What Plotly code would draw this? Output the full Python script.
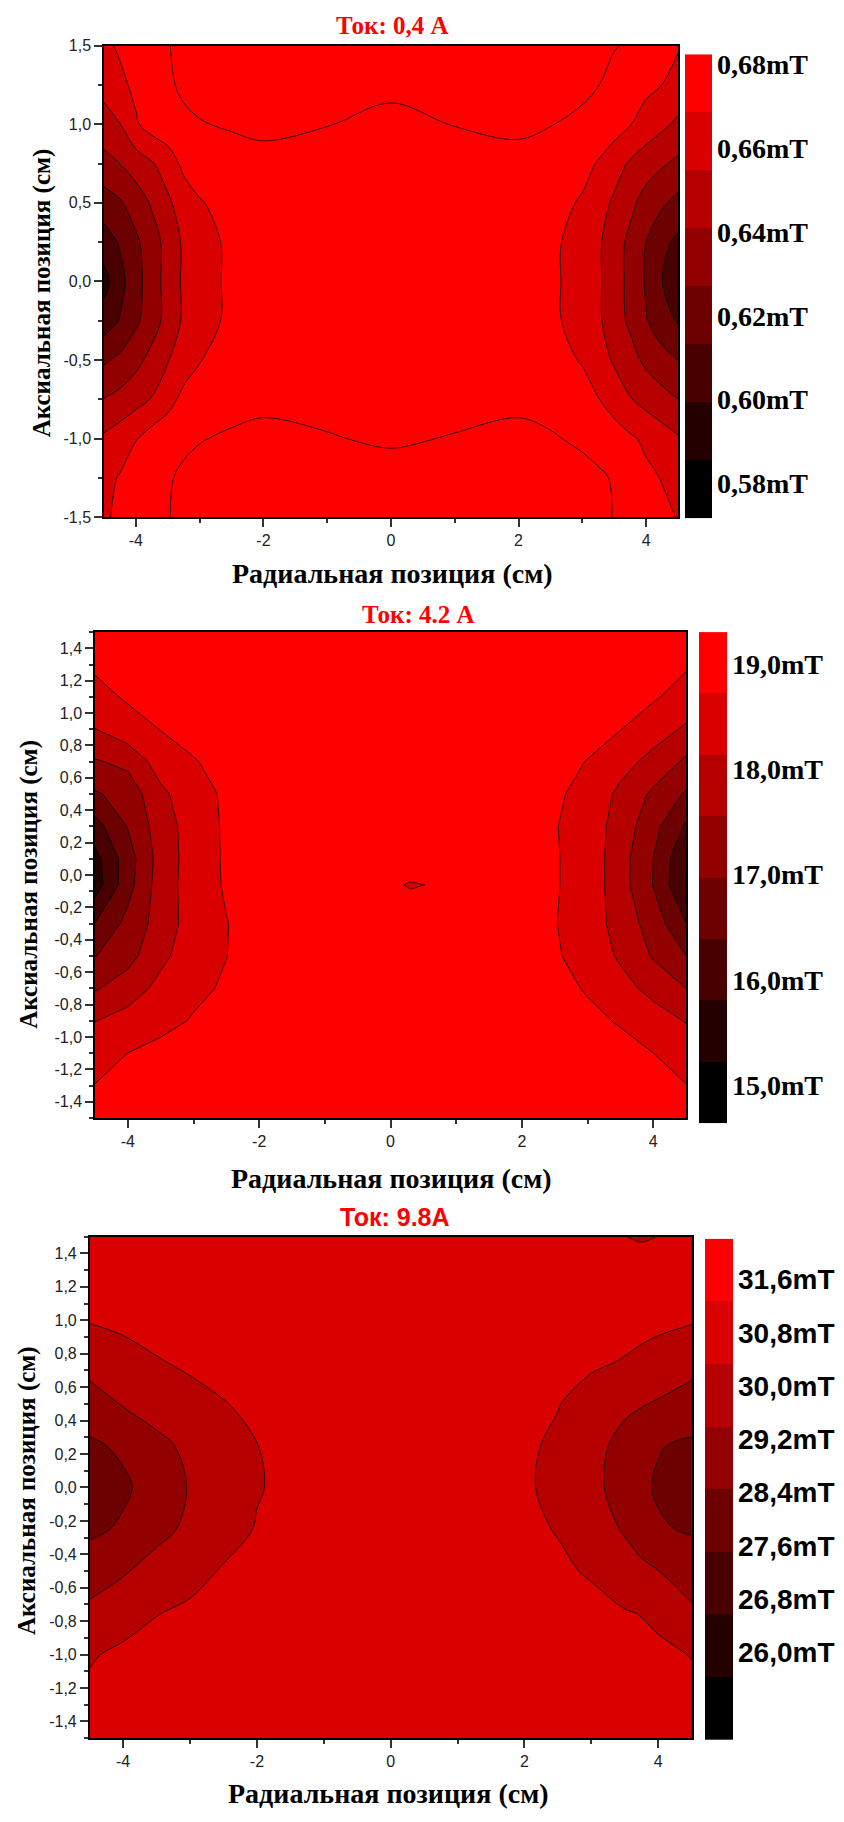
import plotly.graph_objects as go

W, H = 844, 1822

band_colors = ['#000000', '#240000', '#490000', '#6d0000',
               '#920000', '#b60000', '#db0000', '#ff0000']

# ---------------- Panel 1 : 0,4 A ----------------
p1_x = [-4.5, -4.25, -4, -3.75, -3.5, -3.25, -3, -2.5, -2, -1, 0,
        1, 2, 2.5, 3, 3.25, 3.5, 3.75, 4, 4.25, 4.5]
p1_y = [-1.5, -1.25, -1, -0.75, -0.5, -0.25, 0, 0.25, 0.5, 0.75, 1, 1.25, 1.5]
p1_z = [
    [0.6665, 0.6715, 0.6755, 0.679, 0.682, 0.6845, 0.6858, 0.6865, 0.687, 0.687, 0.6868,
     0.687, 0.687, 0.6866, 0.686, 0.685, 0.682, 0.679, 0.675, 0.6715, 0.668],
    [0.665, 0.6695, 0.6735, 0.6775, 0.6815, 0.684, 0.685, 0.6855, 0.6858, 0.6855, 0.6852,
     0.6856, 0.6858, 0.6855, 0.685, 0.684, 0.6815, 0.6765, 0.6715, 0.668, 0.6645],
    [0.657, 0.662, 0.668, 0.6745, 0.678, 0.6805, 0.682, 0.6835, 0.684, 0.6828, 0.6815,
     0.6828, 0.684, 0.6832, 0.681, 0.6785, 0.675, 0.6705, 0.666, 0.661, 0.656],
    [0.6415, 0.645, 0.650, 0.6555, 0.6635, 0.6725, 0.676, 0.6795, 0.681, 0.6805, 0.679,
     0.68, 0.681, 0.6795, 0.674, 0.669, 0.6625, 0.6555, 0.65, 0.6455, 0.641],
    [0.625, 0.630, 0.637, 0.645, 0.654, 0.6615, 0.668, 0.6745, 0.6762, 0.677, 0.6765,
     0.6768, 0.676, 0.674, 0.6675, 0.661, 0.653, 0.6455, 0.638, 0.632, 0.627],
    [0.606, 0.614, 0.6245, 0.635, 0.6455, 0.657, 0.663, 0.6715, 0.6745, 0.6755, 0.6755,
     0.6755, 0.6745, 0.6715, 0.663, 0.657, 0.647, 0.6385, 0.628, 0.619, 0.612],
    [0.594, 0.609, 0.622, 0.6345, 0.646, 0.657, 0.6625, 0.6715, 0.674, 0.675, 0.675,
     0.675, 0.674, 0.6715, 0.6625, 0.657, 0.6465, 0.6375, 0.6255, 0.6135, 0.604],
    [0.607, 0.6145, 0.6245, 0.635, 0.6455, 0.657, 0.663, 0.6715, 0.6745, 0.6755, 0.6755,
     0.6755, 0.6745, 0.6715, 0.663, 0.657, 0.6465, 0.638, 0.627, 0.617, 0.610],
    [0.620, 0.6255, 0.6335, 0.6425, 0.6525, 0.661, 0.6675, 0.674, 0.676, 0.6765, 0.676,
     0.6765, 0.676, 0.674, 0.667, 0.6605, 0.6525, 0.644, 0.636, 0.629, 0.623],
    [0.637, 0.641, 0.6475, 0.6535, 0.661, 0.672, 0.6755, 0.679, 0.6805, 0.6795, 0.6775,
     0.6795, 0.6805, 0.679, 0.673, 0.6675, 0.6605, 0.653, 0.6465, 0.6425, 0.638],
    [0.648, 0.6545, 0.667, 0.6745, 0.678, 0.6805, 0.682, 0.6832, 0.6838, 0.6826, 0.6805,
     0.6826, 0.6836, 0.6826, 0.681, 0.678, 0.6745, 0.669, 0.6635, 0.6575, 0.652],
    [0.660, 0.6655, 0.6715, 0.677, 0.681, 0.684, 0.6848, 0.6852, 0.6855, 0.685, 0.684,
     0.685, 0.6855, 0.685, 0.6838, 0.6826, 0.679, 0.675, 0.6715, 0.6685, 0.6645],
    [0.6655, 0.6705, 0.675, 0.679, 0.682, 0.6845, 0.6855, 0.686, 0.6865, 0.6865, 0.6862,
     0.6865, 0.687, 0.6862, 0.6852, 0.684, 0.683, 0.6812, 0.6765, 0.6725, 0.6695],
]
p1_edges = [0.5717, 0.5856, 0.5994, 0.6132, 0.6271, 0.6409, 0.6547, 0.6686, 0.6824]
p1_cb_vals = [0.58, 0.60, 0.62, 0.64, 0.66, 0.68]
p1_cb_text = ['0,58mT', '0,60mT', '0,62mT', '0,64mT', '0,66mT', '0,68mT']
p1_yticks = [-1.5, -1.0, -0.5, 0, 0.5, 1.0, 1.5]
p1_ytext = ['-1,5', '-1,0', '-0,5', '0,0', '0,5', '1,0', '1,5']
p1_yminor = [-1.25, -0.75, -0.25, 0.25, 0.75, 1.25]

# ---------------- Panel 2 : 4.2 A ----------------
p2_x = [-4.5, -4, -3.5, -3, -2.5, -2, -1, 0, 0.3, 1, 2, 2.5, 3, 3.5, 4, 4.5]
p2_y = [-1.5, -1.3, -1.1, -0.9, -0.7, -0.5, -0.3, -0.06, 0.1, 0.3, 0.5, 0.7, 0.9, 1.1, 1.3, 1.5]
p2_z = [
    [18.85, 18.95, 19.0, 19.03, 19.04, 19.05, 19.05, 19.05, 19.05, 19.05, 19.05, 19.04, 19.02, 19.0, 18.95, 18.87],
    [18.73, 18.88, 18.97, 19.0, 19.03, 19.04, 19.05, 19.05, 19.05, 19.05, 19.04, 19.02, 19.0, 18.95, 18.86, 18.73],
    [18.5, 18.72, 18.88, 18.96, 19.0, 19.02, 19.04, 19.05, 19.05, 19.04, 19.02, 19.0, 18.94, 18.86, 18.72, 18.5],
    [18.12, 18.35, 18.55, 18.76, 18.9, 18.98, 19.02, 19.03, 19.03, 19.03, 19.0, 18.93, 18.82, 18.68, 18.42, 18.1],
    [17.5, 17.85, 18.3, 18.6, 18.78, 18.95, 19.0, 19.02, 19.02, 19.02, 18.97, 18.85, 18.68, 18.35, 17.95, 17.55],
    [16.95, 17.35, 18.0, 18.45, 18.71, 18.95, 19.0, 19.02, 19.02, 19.0, 18.95, 18.78, 18.5, 18.05, 17.5, 16.97],
    [16.4, 17.15, 17.8, 18.41, 18.70, 18.95, 19.0, 19.0, 19.0, 19.0, 18.95, 18.74, 18.45, 17.9, 17.3, 16.4],
    [15.5, 16.75, 17.85, 18.4, 18.78, 18.95, 19.0, 18.8, 18.68, 18.8, 18.95, 18.76, 18.5, 17.8, 16.95, 15.78],
    [15.6, 16.7, 17.8, 18.4, 18.79, 18.95, 19.02, 19.03, 19.03, 19.02, 18.95, 18.76, 18.5, 17.8, 16.97, 15.85],
    [16.15, 17.0, 17.85, 18.4, 18.8, 18.95, 19.02, 19.03, 19.03, 19.02, 18.95, 18.75, 18.45, 17.9, 17.15, 16.3],
    [16.9, 17.2, 18.0, 18.5, 18.8, 18.95, 19.02, 19.03, 19.03, 19.02, 18.95, 18.8, 18.55, 18.0, 17.45, 16.9],
    [17.5, 17.7, 18.42, 18.68, 18.9, 18.98, 19.02, 19.03, 19.03, 19.02, 18.98, 18.9, 18.7, 18.35, 17.95, 17.45],
    [18.12, 18.5, 18.73, 18.92, 19.0, 19.03, 19.05, 19.05, 19.05, 19.05, 19.02, 18.98, 18.9, 18.73, 18.4, 18.05],
    [18.55, 18.78, 18.95, 19.02, 19.04, 19.05, 19.05, 19.05, 19.05, 19.05, 19.04, 19.02, 18.97, 18.9, 18.78, 18.5],
    [18.8, 18.95, 19.02, 19.05, 19.05, 19.05, 19.05, 19.05, 19.05, 19.05, 19.05, 19.04, 19.02, 18.97, 18.9, 18.78],
    [18.9, 19.0, 19.05, 19.05, 19.05, 19.05, 19.05, 19.05, 19.05, 19.05, 19.05, 19.04, 19.03, 19.0, 18.95, 18.87],
]
p2_edges = [14.64, 15.2225, 15.805, 16.3875, 16.97, 17.5525, 18.135, 18.7175, 19.30]
p2_cb_vals = [15.0, 16.0, 17.0, 18.0, 19.0]
p2_cb_text = ['15,0mT', '16,0mT', '17,0mT', '18,0mT', '19,0mT']

# ---------------- Panel 3 : 9.8 A ----------------
p3_x = [-4.5, -4, -3.5, -3, -2.5, -2, -1.5, -1, 0,
        1, 1.5, 2, 2.5, 3, 3.5, 3.75, 4, 4.5]
p3_y = [-1.5, -1.25, -1, -0.75, -0.5, -0.25, 0, 0.25, 0.5, 0.75, 1, 1.25, 1.5]
p3_z = [
    [30.7, 30.8, 30.86, 30.9, 30.92, 30.93, 30.95, 30.96, 30.97,
     30.96, 30.95, 30.93, 30.9, 30.87, 30.83, 30.8, 30.76, 30.7],
    [30.5, 30.66, 30.75, 30.8, 30.84, 30.86, 30.88, 30.9, 30.92,
     30.9, 30.89, 30.87, 30.85, 30.82, 30.77, 30.73, 30.68, 30.55],
    [30.25, 30.5, 30.64, 30.72, 30.77, 30.8, 30.82, 30.84, 30.86,
     30.84, 30.82, 30.79, 30.75, 30.7, 30.62, 30.57, 30.5, 30.3],
    [29.55, 29.95, 30.3, 30.48, 30.6, 30.68, 30.73, 30.77, 30.8,
     30.76, 30.72, 30.67, 30.6, 30.5, 30.38, 30.3, 30.15, 29.5],
    [29.05, 29.3, 29.75, 30.05, 30.4, 30.52, 30.62, 30.69, 30.76,
     30.68, 30.62, 30.54, 30.43, 30.27, 29.8, 29.6, 29.4, 29.05],
    [28.25, 28.58, 29.12, 29.58, 30.0, 30.38, 30.53, 30.64, 30.73,
     30.63, 30.55, 30.45, 30.3, 29.85, 29.3, 28.92, 28.55, 28.35],
    [28.0, 28.3, 28.85, 29.45, 29.95, 30.28, 30.5, 30.62, 30.72,
     30.62, 30.55, 30.42, 30.15, 29.7, 28.9, 28.6, 28.35, 28.0],
    [28.3, 28.6, 29.15, 29.6, 30.0, 30.32, 30.52, 30.64, 30.73,
     30.64, 30.56, 30.45, 30.2, 29.75, 29.05, 28.75, 28.5, 28.3],
    [29.0, 29.45, 29.8, 30.08, 30.3, 30.48, 30.6, 30.7, 30.76,
     30.7, 30.64, 30.54, 30.36, 30.0, 29.6, 29.45, 29.3, 29.0],
    [29.7, 30.0, 30.28, 30.45, 30.57, 30.65, 30.72, 30.76, 30.8,
     30.76, 30.72, 30.67, 30.58, 30.45, 30.28, 30.15, 30.0, 29.7],
    [30.38, 30.52, 30.62, 30.7, 30.75, 30.79, 30.82, 30.84, 30.86,
     30.84, 30.82, 30.79, 30.75, 30.7, 30.62, 30.57, 30.52, 30.4],
    [30.6, 30.7, 30.77, 30.82, 30.85, 30.87, 30.89, 30.9, 30.92,
     30.9, 30.89, 30.87, 30.85, 30.82, 30.77, 30.74, 30.7, 30.62],
    [30.75, 30.82, 30.87, 30.9, 30.92, 30.94, 30.95, 30.96, 30.97,
     30.96, 30.95, 30.93, 30.9, 30.86, 30.34, 30.27, 30.34, 30.75],
]
p3_edges = [24.69, 25.63, 26.57, 27.51, 28.45, 29.39, 30.33, 31.27, 32.21]
p3_cb_vals = [26.0, 26.8, 27.6, 28.4, 29.2, 30.0, 30.8, 31.6]
p3_cb_text = ['26,0mT', '26,8mT', '27,6mT', '28,4mT', '29,2mT', '30,0mT', '30,8mT', '31,6mT']

# shared axis ticks
x_ticks = [-4, -2, 0, 2, 4]
x_text = ['-4', '-2', '0', '2', '4']
x_minor = [-3, -1, 1, 3]
y_ticks_fine = [-1.4, -1.2, -1.0, -0.8, -0.6, -0.4, -0.2, 0, 0.2, 0.4, 0.6, 0.8, 1.0, 1.2, 1.4]
y_text_fine = ['-1,4', '-1,2', '-1,0', '-0,8', '-0,6', '-0,4', '-0,2', '0,0',
               '0,2', '0,4', '0,6', '0,8', '1,0', '1,2', '1,4']
y_minor_fine = [-1.5, -1.3, -1.1, -0.9, -0.7, -0.5, -0.3, -0.1, 0.1, 0.3, 0.5, 0.7, 0.9, 1.1, 1.3, 1.5]

titles = ['Ток: 0,4 A', 'Ток: 4.2 A', 'Ток: 9.8A']
x_title = 'Радиальная позиция (см)'
y_title = 'Аксиальная позиция (см)'

SERIF = 'Liberation Serif'
SANS = 'Liberation Sans'


def px_x(v):
    return v / W


def px_y(v):
    return 1 - v / H


def contour_trace(x, y, z, edges, smooth, xa, ya):
    n = len(edges) - 1
    size = (edges[-1] - edges[0]) / n
    start = edges[0] + size
    cs = [[k / n, band_colors[min(k, n - 1)]] for k in range(n + 1)]
    return go.Contour(
        x=x, y=y, z=z, xaxis=xa, yaxis=ya,
        autocontour=False,
        contours=dict(start=start, end=start + (n - 1) * size + size * 1e-3, size=size,
                      coloring='fill', showlines=True),
        colorscale=cs, showscale=False,
        line=dict(color='black', width=0.8, smoothing=smooth),
        hoverinfo='skip')


def cbar_trace(edges, xa, ya):
    n = len(edges) - 1
    return go.Heatmap(
        x=[0, 1], y=edges, z=[[k] for k in range(n)], zmin=0, zmax=n - 1,
        colorscale=[[k / (n - 1), band_colors[k]] for k in range(n)],
        showscale=False, xaxis=xa, yaxis=ya, hoverinfo='skip')


fig = go.Figure()
fig.add_trace(contour_trace(p1_x, p1_y, p1_z, p1_edges, 1.0, 'x', 'y'))
fig.add_trace(cbar_trace(p1_edges, 'x2', 'y2'))
fig.add_trace(contour_trace(p2_x, p2_y, p2_z, p2_edges, 0, 'x3', 'y3'))
fig.add_trace(cbar_trace(p2_edges, 'x4', 'y4'))
fig.add_trace(contour_trace(p3_x, p3_y, p3_z, p3_edges, 1.0, 'x5', 'y5'))
fig.add_trace(cbar_trace(p3_edges, 'x6', 'y6'))

tickfont = dict(family=SANS, size=16, color='#222222')


def main_x(dom, anchor):
    return dict(domain=dom, anchor=anchor, range=[-4.5, 4.5], tickvals=x_ticks, ticktext=x_text,
                ticks='outside', ticklen=8, tickwidth=1.5, tickcolor='#333333',
                showline=True, linecolor='black', linewidth=1.5, mirror=True,
                showgrid=False, zeroline=False, tickfont=tickfont,
                minor=dict(tickvals=x_minor, ticks='outside', ticklen=4, tickwidth=1.5,
                           tickcolor='#333333', showgrid=False))


def main_y(dom, anchor, tv, tt, mv):
    return dict(domain=dom, anchor=anchor, range=[-1.5, 1.5], tickvals=tv, ticktext=tt,
                ticks='outside', ticklen=8, tickwidth=1.5, tickcolor='#333333',
                showline=True, linecolor='black', linewidth=1.5, mirror=True,
                showgrid=False, zeroline=False, tickfont=tickfont,
                minor=dict(tickvals=mv, ticks='outside', ticklen=4, tickwidth=1.5,
                           tickcolor='#333333', showgrid=False))


def cb_x(dom, anchor):
    return dict(domain=dom, anchor=anchor, range=[0, 1], visible=False)


def cb_y(dom, anchor, edges, tv, tt, fam):
    return dict(domain=dom, anchor=anchor, range=[edges[0], edges[-1]], side='right',
                tickvals=tv, ticktext=tt, ticks='', showgrid=False, zeroline=False,
                showline=False, ticklabelstandoff=4,
                tickfont=dict(family=fam, size=28, color='black', weight='bold'))


# pixel boxes (left, right, top, bottom)
P1 = (104, 678, 38, 514)
C1 = (685, 712, 46.7, 515)
P2 = (95, 686, 630, 1120.4)
C2 = (699, 727, 630, 1126)
P3 = (89.7, 691.7, 1240.3, 1746.5)
C3 = (705, 733, 1242.3, 1748.3)


def dx(b):
    return [px_x(b[0]), px_x(b[1])]


def dy(b):
    return [px_y(b[3]), px_y(b[2])]


fig.update_layout(
    width=W, height=H, margin=dict(l=0, r=0, t=0, b=0),
    paper_bgcolor='white', plot_bgcolor='white', showlegend=False,
    xaxis=main_x(dx(P1), 'y'),
    yaxis=main_y(dy(P1), 'x', p1_yticks, p1_ytext, p1_yminor),
    xaxis2=cb_x(dx(C1), 'y2'),
    yaxis2=cb_y(dy(C1), 'x2', p1_edges, p1_cb_vals, p1_cb_text, SERIF),
    xaxis3=main_x(dx(P2), 'y3'),
    yaxis3=main_y(dy(P2), 'x3', y_ticks_fine, y_text_fine, y_minor_fine),
    xaxis4=cb_x(dx(C2), 'y4'),
    yaxis4=cb_y(dy(C2), 'x4', p2_edges, p2_cb_vals, p2_cb_text, SERIF),
    xaxis5=main_x(dx(P3), 'y5'),
    yaxis5=main_y(dy(P3), 'x5', y_ticks_fine, y_text_fine, y_minor_fine),
    xaxis6=cb_x(dx(C3), 'y6'),
    yaxis6=cb_y(dy(C3), 'x6', p3_edges, p3_cb_vals, p3_cb_text, SANS),
)

ann = []
# panel titles
for t, cx, cy, fam in [(titles[0], 392, 18, SERIF), (titles[1], 418, 612, SERIF), (titles[2], 395, 1220, SANS)]:
    ann.append(dict(text=t, x=px_x(cx), y=px_y(cy), xref='paper', yref='paper',
                    xanchor='center', yanchor='middle', showarrow=False,
                    font=dict(family=fam, size=25, color='#ff0000', weight='bold')))
# x axis titles
for cx, cy in [(392, 571), (391, 1182), (388, 1802)]:
    ann.append(dict(text=x_title, x=px_x(cx), y=px_y(cy), xref='paper', yref='paper',
                    xanchor='center', yanchor='middle', showarrow=False,
                    font=dict(family=SERIF, size=28, color='black', weight='bold')))
# y axis titles
for cx, cy in [(42, 288), (29, 885), (27, 1497)]:
    ann.append(dict(text=y_title, x=px_x(cx), y=px_y(cy), xref='paper', yref='paper',
                    xanchor='center', yanchor='middle', showarrow=False, textangle=-90,
                    font=dict(family=SERIF, size=25, color='black', weight='bold')))
fig.update_layout(annotations=ann)

fig.write_html('out.html')
